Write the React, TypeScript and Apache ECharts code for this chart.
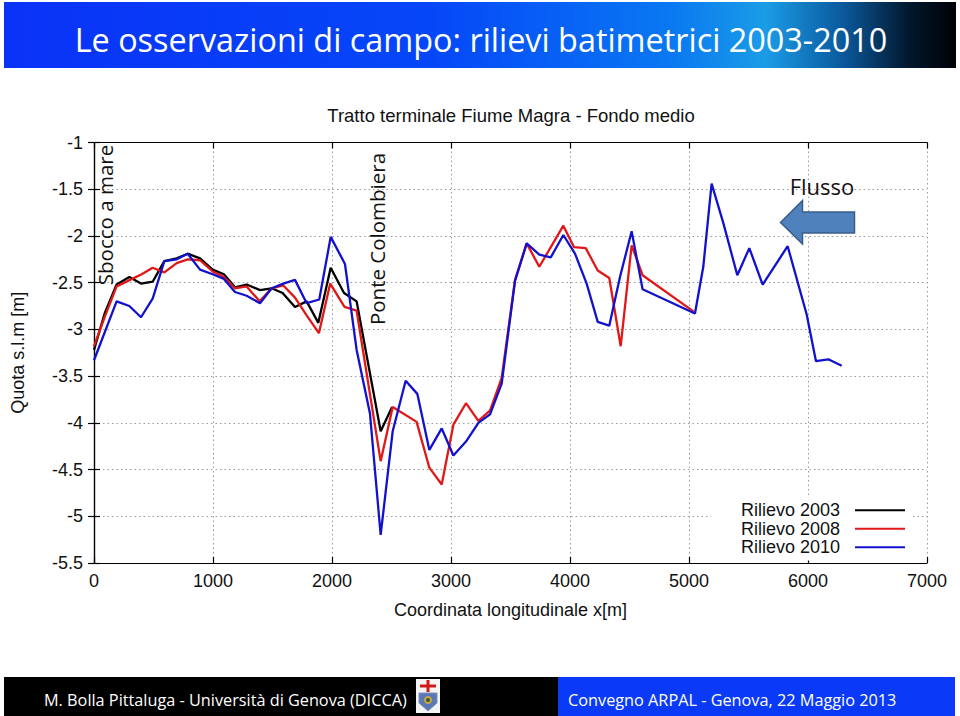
import React, { useEffect, useRef } from "react";
import * as echarts from "echarts";

const title = "Le osservazioni di campo: rilievi batimetrici 2003-2010";
const chartTitle = "Tratto terminale Fiume Magra - Fondo medio";
const xAxisName = "Coordinata longitudinale x[m]";
const yAxisName = "Quota s.l.m [m]";
const seriesNames = ["Rilievo 2003", "Rilievo 2008", "Rilievo 2010"];
const footerLeft = "M. Bolla Pittaluga - Università di Genova (DICCA)";
const footerRight = "Convegno ARPAL - Genova, 22 Maggio 2013";

const x2003 = [0, 92, 190, 297, 395, 493, 591, 695, 787, 891, 997, 1092, 1185, 1283, 1395, 1493, 1585, 1689, 1787, 1885, 1989, 2101, 2207, 2409, 2505];
const y2003 = [-3.22, -2.82, -2.52, -2.44, -2.51, -2.49, -2.27, -2.24, -2.19, -2.24, -2.36, -2.41, -2.55, -2.52, -2.58, -2.56, -2.61, -2.76, -2.7, -2.93, -2.34, -2.61, -2.7, -4.09, -3.83];

const x2008 = [0, 92, 190, 303, 401, 493, 591, 695, 787, 891, 997, 1092, 1185, 1283, 1392, 1493, 1591, 1689, 1787, 1890, 1985, 2105, 2207, 2409, 2510, 2711, 2818, 2922, 3020, 3126, 3230, 3328, 3426, 3538, 3636, 3742, 3944, 4034, 4132, 4233, 4330, 4426, 4518, 4610, 5040];
const y2008 = [-3.18, -2.86, -2.54, -2.47, -2.41, -2.34, -2.39, -2.29, -2.25, -2.26, -2.38, -2.44, -2.56, -2.54, -2.7, -2.56, -2.53, -2.66, -2.85, -3.04, -2.51, -2.76, -2.8, -4.41, -3.83, -3.99, -4.48, -4.66, -4.02, -3.79, -3.98, -3.87, -3.52, -2.47, -2.08, -2.33, -1.89, -2.12, -2.13, -2.37, -2.45, -3.18, -2.1, -2.42, -2.81];

const x2010 = [0, 190, 297, 395, 493, 591, 695, 787, 891, 997, 1092, 1185, 1283, 1395, 1493, 1591, 1689, 1787, 1893, 1989, 2109, 2207, 2319, 2409, 2510, 2619, 2717, 2818, 2922, 3020, 3126, 3230, 3328, 3426, 3538, 3636, 3742, 3838, 3944, 4042, 4140, 4233, 4330, 4420, 4518, 4610, 5050, 5120, 5190, 5288, 5406, 5507, 5619, 5829, 5989, 6067, 6171, 6283];
const y2010 = [-3.33, -2.7, -2.75, -2.87, -2.67, -2.27, -2.25, -2.19, -2.36, -2.41, -2.46, -2.6, -2.64, -2.72, -2.56, -2.51, -2.47, -2.72, -2.68, -2.01, -2.3, -3.22, -3.9, -5.2, -4.09, -3.55, -3.69, -4.29, -4.06, -4.35, -4.2, -4.0, -3.91, -3.58, -2.48, -2.08, -2.2, -2.23, -1.99, -2.19, -2.51, -2.92, -2.96, -2.44, -1.95, -2.57, -2.83, -2.33, -1.44, -1.86, -2.42, -2.13, -2.52, -2.11, -2.84, -3.34, -3.32, -3.39];

const seriesColors = ["#000000", "#e01818", "#1212cc"];

const ARIAL = '"Liberation Sans", Arial, sans-serif';
const CAL = '"Open Sans", "Noto Sans", sans-serif';

function fitScale(text: string, font: string, target: number): number {
  try {
    const c = document.createElement("canvas").getContext("2d");
    if (!c) return 1;
    c.font = font;
    const w = c.measureText(text).width;
    return w > 0 ? target / w : 1;
  } catch (e) {
    return 1;
  }
}

function zip(xs: number[], ys: number[]) {
  return xs.map((x, i) => [x, ys[i]]);
}

export default function App() {
  const ref = useRef<HTMLDivElement>(null);
  useEffect(() => {
    document.body.style.margin = "0";
    if (!ref.current) return;
    const chart = echarts.init(ref.current, undefined, { renderer: "svg" });

    const titleFont = `32px "Open Sans"`;
    const titleScale = fitScale(title, titleFont, 813);
    const fLeftScale = fitScale(footerLeft, `17px "Open Sans"`, 363);
    const fRightScale = fitScale(footerRight, `17px "Open Sans"`, 329);

    const xAxisBase = {
      type: "value",
      min: 0,
      max: 7000,
      interval: 1000,
    };
    const yAxisBase = {
      type: "value",
      min: -5.5,
      max: -1,
      interval: 0.5,
    };
    const tickStyle = { show: true, inside: true, length: 6, lineStyle: { color: "#000", width: 1.2 } };
    const lineAxis = { show: true, lineStyle: { color: "#000", width: 1.2 } };
    const gridLine = { show: true, lineStyle: { color: "#9a9a9a", width: 1, type: [1.5, 3] } };

    const option: any = {
      animation: false,
      backgroundColor: "#ffffff",
      grid: { left: 94, top: 142.5, width: 833, height: 420.5, containLabel: false },
      xAxis: [
        {
          ...xAxisBase,
          position: "bottom",
          name: xAxisName,
          nameLocation: "middle",
          nameGap: 38,
          nameTextStyle: { fontFamily: ARIAL, fontSize: 18, color: "#111" },
          axisLine: lineAxis,
          axisTick: tickStyle,
          axisLabel: { fontFamily: ARIAL, fontSize: 18, color: "#111", margin: 9, formatter: (v: number) => String(v) },
          splitLine: gridLine,
        },
        {
          ...xAxisBase,
          position: "top",
          axisLine: lineAxis,
          axisTick: tickStyle,
          axisLabel: { show: false },
          splitLine: { show: false },
        },
      ],
      yAxis: [
        {
          ...yAxisBase,
          position: "left",
          name: yAxisName,
          nameLocation: "middle",
          nameGap: 67,
          nameRotate: 90,
          nameTextStyle: { fontFamily: ARIAL, fontSize: 18, color: "#111" },
          axisLine: lineAxis,
          axisTick: tickStyle,
          axisLabel: { fontFamily: ARIAL, fontSize: 18, color: "#111", margin: 11, formatter: (v: number) => String(v) },
          splitLine: gridLine,
        },
        {
          ...yAxisBase,
          position: "right",
          axisLine: lineAxis,
          axisTick: tickStyle,
          axisLabel: { show: false },
          splitLine: { show: false },
        },
      ],
      legend: {
        orient: "vertical",
        right: 47,
        top: 497,
        align: "right",
        itemWidth: 50,
        itemHeight: 2.2,
        itemGap: 0,
        padding: [4, 8, 4, 30],
        backgroundColor: "#ffffff",
        textStyle: { fontFamily: ARIAL, fontSize: 18, color: "#111", lineHeight: 18.5, padding: [0, 10, 0, 0] },
        data: seriesNames.map((n) => ({ name: n, icon: "rect" })),
      },
      series: [
        { x: x2003, y: y2003 },
        { x: x2008, y: y2008 },
        { x: x2010, y: y2010 },
      ].map((s, i) => ({
        name: seriesNames[i],
        type: "line",
        xAxisIndex: 0,
        yAxisIndex: 0,
        data: zip(s.x, s.y),
        symbol: "none",
        color: seriesColors[i],
        lineStyle: { color: seriesColors[i], width: 2.3 },
        z: 3 + i,
      })),
      graphic: [
        {
          type: "rect",
          shape: { x: 4, y: 2, width: 952, height: 66 },
          style: {
            fill: new echarts.graphic.LinearGradient(0, 0, 1, 0, [
              { offset: 0, color: "#0a32f6" },
              { offset: 0.45, color: "#0547f8" },
              { offset: 0.7, color: "#0a78f2" },
              { offset: 0.8, color: "#1a9ce6" },
              { offset: 0.88, color: "#0b5a9e" },
              { offset: 0.95, color: "#02182e" },
              { offset: 1, color: "#000005" },
            ]),
          },
          z: 0,
        },
        {
          type: "text",
          x: 481,
          y: 40,
          scaleX: titleScale,
          style: {
            text: title,
            fill: "#ffffff",
            font: titleFont,
            textAlign: "center",
            textVerticalAlign: "middle",
          },
          z: 1,
        },
        {
          type: "text",
          x: 511,
          y: 115,
          style: {
            text: chartTitle,
            fill: "#111",
            font: `18.5px ${ARIAL}`,
            textAlign: "center",
            textVerticalAlign: "middle",
          },
        },
        {
          type: "text",
          x: 105,
          y: 215,
          rotation: Math.PI / 2,
          style: {
            text: "Sbocco a mare",
            fill: "#111",
            font: `20.5px ${CAL}`,
            textAlign: "center",
            textVerticalAlign: "middle",
          },
          z: 1,
        },
        {
          type: "text",
          x: 376.5,
          y: 239,
          rotation: Math.PI / 2,
          style: {
            text: "Ponte Colombiera",
            fill: "#111",
            font: `20.5px ${CAL}`,
            textAlign: "center",
            textVerticalAlign: "middle",
          },
          z: 1,
        },
        {
          type: "text",
          x: 822,
          y: 186,
          style: {
            text: "Flusso",
            fill: "#111",
            font: `22px ${CAL}`,
            textAlign: "center",
            textVerticalAlign: "middle",
          },
          z: 10,
        },
        {
          type: "polygon",
          shape: {
            points: [
              [780.5, 222.5],
              [802.5, 200.5],
              [802.5, 212],
              [854.5, 212],
              [854.5, 233],
              [802.5, 233],
              [802.5, 244],
            ],
          },
          style: { fill: "#4f81bd", stroke: "#385d8a", lineWidth: 1.5 },
          z: 10,
        },
        // footer
        {
          type: "rect",
          shape: { x: 4, y: 677, width: 554, height: 39 },
          style: { fill: "#000000" },
        },
        {
          type: "rect",
          shape: { x: 558, y: 677, width: 397, height: 39 },
          style: { fill: "#0a3af8" },
        },
        {
          type: "text",
          x: 44,
          y: 699,
          scaleX: fLeftScale,
          style: {
            text: footerLeft,
            fill: "#ffffff",
            font: `17px "Open Sans"`,
            textAlign: "left",
            textVerticalAlign: "middle",
          },
          z: 5,
        },
        {
          type: "text",
          x: 568,
          y: 699,
          scaleX: fRightScale,
          style: {
            text: footerRight,
            fill: "#ffffff",
            font: `17px "Open Sans"`,
            textAlign: "left",
            textVerticalAlign: "middle",
          },
          z: 5,
        },
        // crest logo
        {
          type: "group",
          x: 416,
          y: 679,
          z: 5,
          children: [
            { type: "rect", shape: { x: 0, y: 0, width: 24, height: 34 }, style: { fill: "#f4f4f4" } },
            { type: "rect", shape: { x: 10.5, y: 1, width: 3, height: 12 }, style: { fill: "#d01818" } },
            { type: "rect", shape: { x: 4, y: 5.5, width: 16, height: 3 }, style: { fill: "#d01818" } },
            {
              type: "polygon",
              shape: { points: [[3, 14], [21, 14], [21, 24], [12, 32], [3, 24]] },
              style: { fill: "#5a78b8", stroke: "#8090b0", lineWidth: 1 },
            },
            { type: "circle", shape: { cx: 12, cy: 21, r: 4 }, style: { fill: "#c9a640" } },
            { type: "circle", shape: { cx: 12, cy: 21, r: 2 }, style: { fill: "#3a5a30" } },
          ],
        },
      ],
    };
    chart.setOption(option);
    return () => chart.dispose();
  }, []);
  return <div ref={ref} style={{ width: 960, height: 716 }} />;
}
